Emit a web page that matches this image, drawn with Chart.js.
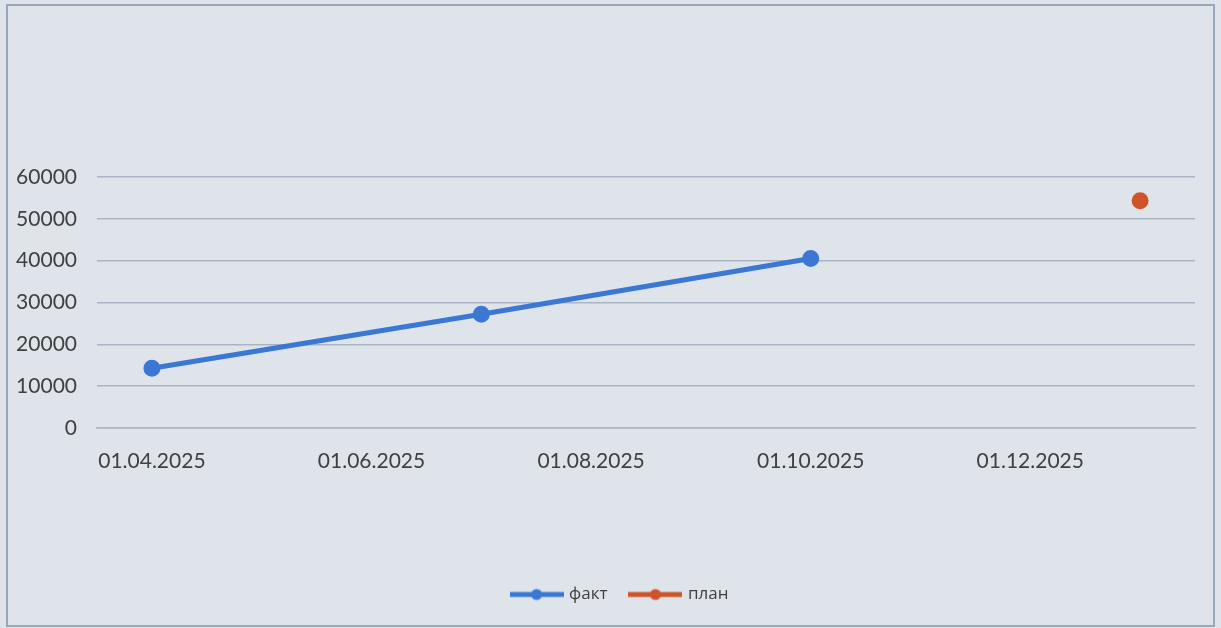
<!DOCTYPE html>
<html>
<head>
<meta charset="utf-8">
<script src="https://cdn.jsdelivr.net/npm/chart.js@4"></script>
<style>
  html, body { margin: 0; padding: 0; background: #dfe4eb; }
  #wrap { position: relative; width: 1221px; height: 628px; }
  #frame {
    position: absolute; left: 6px; top: 4px; width: 1205px; height: 619px;
    border: 2px solid #98a7b9; pointer-events: none;
  }
</style>
</head>
<body>
<div id="wrap">
  <canvas id="myChart" width="1221" height="628"></canvas>
  <div id="frame"></div>
</div>
<script>
// месяцы по оси X (база - месяц, подписи через один)
const months = ['01.04.2025', '01.05.2025', '01.06.2025', '01.07.2025', '01.08.2025',
  '01.09.2025', '01.10.2025', '01.11.2025', '01.12.2025', '01.01.2026']

const factDates = ['01.04.2025', '01.07.2025', '01.10.2025']
const factValues = [14300, 27200, 40500]

const planDates = ['01.01.2026']
const planValues = [54300]

const yTicks = [0, 10000, 20000, 30000, 40000, 50000, 60000]

const blue = '#3a78d4'
const orange = '#cf5429'

// значок легенды: линия с точкой
function legendIcon(color) {
  let c = document.createElement('canvas')
  c.width = 54
  c.height = 14
  let g = c.getContext('2d')
  g.strokeStyle = color
  g.lineWidth = 5
  g.beginPath()
  g.moveTo(0, 7)
  g.lineTo(54, 7)
  g.stroke()
  g.fillStyle = color
  g.beginPath()
  g.arc(27, 7, 5.5, 0, Math.PI * 2)
  g.fill()
  return c
}

// легенда в Excel стоит чуть правее центра
const shiftLegend = {
  id: 'shiftLegend',
  afterLayout(chart) {
    chart.legend.left += 23
    chart.legend.right += 23
  }
}

const ctx = document.getElementById('myChart')

const data = {
  labels: months,
  datasets: [{
    label: 'факт',
    data: factDates.map((d, i) => ({ x: d, y: factValues[i] })),
    borderColor: blue,
    backgroundColor: blue,
    borderWidth: 5,
    pointRadius: 6,
    pointHoverRadius: 6,
    pointStyle: 'circle',
    tension: 0
  }, {
    label: 'план',
    data: planDates.map((d, i) => ({ x: d, y: planValues[i] })),
    borderColor: orange,
    backgroundColor: orange,
    borderWidth: 5,
    pointRadius: 6,
    pointHoverRadius: 6,
    showLine: false
  }]
}

const config = {
  type: 'line',
  data: data,
  plugins: [shiftLegend],
  options: {
    responsive: false,
    animation: false,
    layout: { padding: { top: 177, left: 0, right: 26, bottom: 15 } },
    plugins: {
      tooltip: { enabled: false },
      legend: {
        position: 'bottom',
        labels: {
          usePointStyle: true,
          pointStyleWidth: 48,
          padding: 24,
          color: '#404040',
          font: { family: 'Open Sans', size: 17 },
          generateLabels: function (chart) {
            return chart.data.datasets.map((ds, i) => ({
              text: ds.label,
              pointStyle: legendIcon(ds.borderColor),
              fontColor: '#404040',
              lineWidth: 0,
              datasetIndex: i,
              hidden: false
            }))
          }
        }
      }
    },
    scales: {
      x: {
        type: 'category',
        offset: true,
        grid: { display: false, drawTicks: false },
        border: { display: true, color: '#a9b5c5', width: 1.5 },
        ticks: {
          autoSkip: false,
          maxRotation: 0,
          padding: 21,
          color: '#404040',
          font: { family: 'Lato', size: 21 },
          callback: function (val, i) { return i % 2 === 0 ? months[i] : '' }
        },
        afterFit: function (scale) { scale.height = 134 }
      },
      y: {
        min: 0,
        max: 60000,
        afterBuildTicks: function (scale) { scale.ticks = yTicks.map(v => ({ value: v })) },
        grid: { color: '#a9b5c5', lineWidth: 1.5, drawTicks: false },
        border: { display: false },
        ticks: {
          padding: 20,
          color: '#404040',
          font: { family: 'Lato', size: 21 },
          callback: v => String(v)
        },
        afterFit: function (scale) { scale.width = 97 }
      }
    }
  }
}

const myChart = new Chart(ctx, config)
</script>
</body>
</html>
